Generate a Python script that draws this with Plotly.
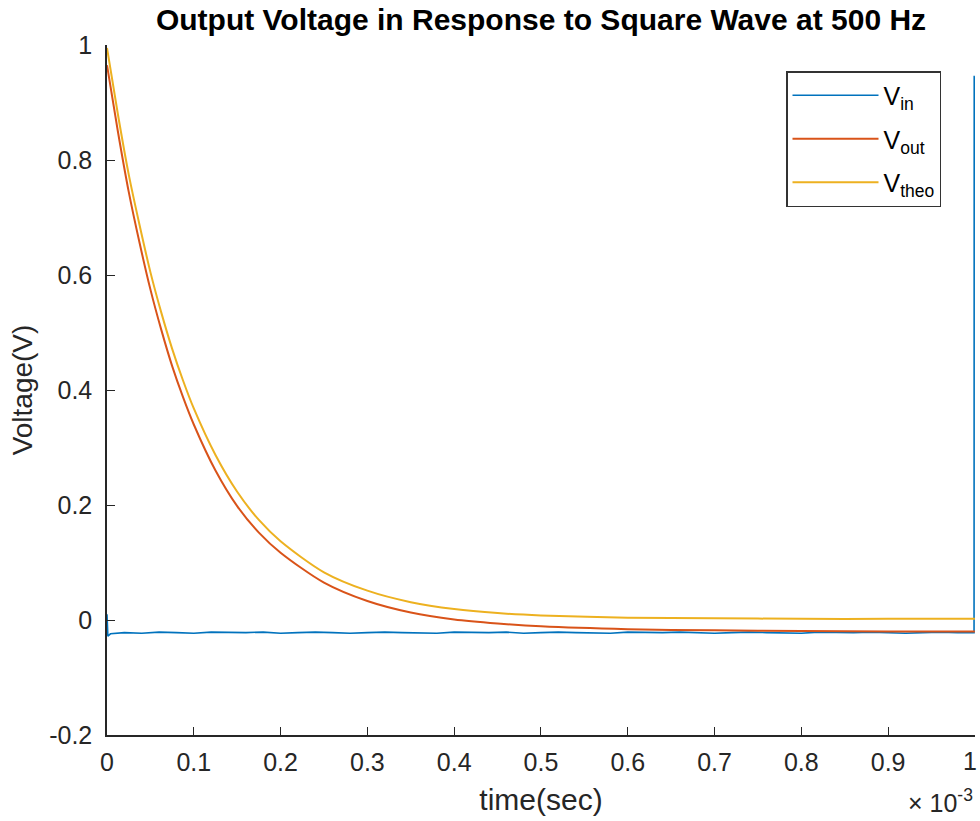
import plotly.graph_objects as go

# time samples (ms, axis shown with x10^-3 sec) and values
t_curve_ms = [0, 0.0125, 0.025, 0.0375, 0.05, 0.0625, 0.075, 0.0875, 0.1, 0.125, 0.15, 0.175, 0.2,
              0.25, 0.3, 0.35, 0.4, 0.45, 0.5, 0.6, 0.7, 0.8, 0.9, 1.0]
v_theo = [0.995, 0.880, 0.775, 0.687, 0.605, 0.535, 0.472, 0.417, 0.368, 0.287, 0.223, 0.174, 0.137,
          0.083, 0.051, 0.031, 0.019, 0.012, 0.008, 0.004, 0.003, 0.002, 0.002, 0.002]
v_out = [0.965, 0.850, 0.745, 0.656, 0.575, 0.505, 0.442, 0.388, 0.340, 0.260, 0.198, 0.152, 0.117,
         0.065, 0.033, 0.013, 0.001, -0.006, -0.011, -0.016, -0.018, -0.019, -0.020, -0.020]

t_in_ms = [0, 0.001, 0.004, 0.02, 0.04, 0.06, 0.08, 0.10, 0.12, 0.14, 0.16, 0.18, 0.20, 0.22, 0.24,
           0.26, 0.28, 0.30, 0.32, 0.34, 0.36, 0.38, 0.40, 0.42, 0.44, 0.46, 0.48, 0.50, 0.52, 0.54,
           0.56, 0.58, 0.60, 0.62, 0.64, 0.66, 0.68, 0.70, 0.72, 0.74, 0.76, 0.78, 0.80, 0.82, 0.84,
           0.86, 0.88, 0.90, 0.92, 0.94, 0.96, 0.98, 0.999, 0.9992, 1.0]
v_in = [0.010, -0.028, -0.024, -0.022, -0.023, -0.021, -0.022, -0.023, -0.021, -0.022, -0.022, -0.021,
        -0.023, -0.022, -0.021, -0.022, -0.023, -0.022, -0.021, -0.022, -0.022, -0.023, -0.021, -0.022,
        -0.022, -0.021, -0.023, -0.022, -0.021, -0.022, -0.022, -0.023, -0.021, -0.022, -0.022, -0.021,
        -0.022, -0.023, -0.022, -0.021, -0.022, -0.022, -0.023, -0.021, -0.022, -0.022, -0.021, -0.022,
        -0.023, -0.022, -0.021, -0.022, -0.022, 0.945, 0.945]

x_tick_vals = [0, 0.1, 0.2, 0.3, 0.4, 0.5, 0.6, 0.7, 0.8, 0.9, 1.0]
x_tick_text = ["0", "0.1", "0.2", "0.3", "0.4", "0.5", "0.6", "0.7", "0.8", "0.9", "1"]
y_tick_vals = [-0.2, 0, 0.2, 0.4, 0.6, 0.8, 1.0]
y_tick_text = ["-0.2", "0", "0.2", "0.4", "0.6", "0.8", "1"]

FONT = "Liberation Sans, Arial, sans-serif"
AX = "#262626"

fig = go.Figure()
fig.add_trace(go.Scatter(x=t_in_ms, y=v_in, mode="lines", name="V<sub>in</sub>", legendgroup="a",
                         line=dict(color="#0072BD", width=1.6)))
fig.add_trace(go.Scatter(x=t_curve_ms, y=v_out, mode="lines", name="V<sub>out</sub>", legendgroup="b",
                         line=dict(color="#D95319", width=2, shape="spline", smoothing=0.8)))
fig.add_trace(go.Scatter(x=t_curve_ms, y=v_theo, mode="lines", name="V<sub>theo</sub>", legendgroup="c",
                         line=dict(color="#EDB120", width=2, shape="spline", smoothing=0.8)))

# last x tick label is drawn as an annotation so it stays inside the page edge
shown_x_text = x_tick_text[:-1] + [""]

fig.update_layout(
    width=980, height=821,
    margin=dict(l=107, r=5, t=45, b=86, autoexpand=False),
    paper_bgcolor="white", plot_bgcolor="white",
    font=dict(family=FONT, size=25, color=AX),
    title=dict(text="<b>Output Voltage in Response to Square Wave at 500 Hz</b>",
               x=(107 + 975) / 2 / 980, xanchor="center", y=1 - 19 / 821, yanchor="middle",
               font=dict(size=30, color="black", family=FONT)),
    xaxis=dict(range=[0, 1.0001], tickvals=x_tick_vals, ticktext=shown_x_text,
               ticks="inside", ticklen=8, tickwidth=1.2, tickcolor=AX, ticklabelstandoff=4,
               showline=True, linecolor=AX, linewidth=1.5, mirror=False,
               showgrid=False, zeroline=False, automargin=False,
               title=dict(text="time(sec)", font=dict(size=30), standoff=14)),
    yaxis=dict(range=[-0.2, 1.0], tickvals=y_tick_vals, ticktext=y_tick_text,
               ticks="inside", ticklen=8, tickwidth=1.2, tickcolor=AX, ticklabelstandoff=8,
               ticklabeloverflow="allow",
               showline=True, linecolor=AX, linewidth=1.5, mirror=False,
               showgrid=False, zeroline=False, automargin=False,
               title=dict(text="Voltage(V)", font=dict(size=28), standoff=8)),
    legend=dict(x=(786 - 107) / 868, xanchor="left", y=(735 - 71) / 690, yanchor="top",
                bgcolor="white", bordercolor="#333333", borderwidth=1.5,
                font=dict(size=25, color="black"), itemwidth=86, tracegroupgap=8),
    showlegend=True,
)

fig.add_annotation(text=x_tick_text[-1], xref="paper", yref="paper", x=(979 - 107) / 868,
                   y=(735 - 761) / 690, xanchor="right", yanchor="middle", showarrow=False,
                   font=dict(size=25, color=AX, family=FONT))

fig.add_annotation(text="\u00d7 10<sup>-3</sup>", xref="paper", yref="paper", x=1.0, y=-0.07,
                   xanchor="right", yanchor="top", showarrow=False,
                   font=dict(size=25, color=AX, family=FONT))

fig.write_html("out.html")
